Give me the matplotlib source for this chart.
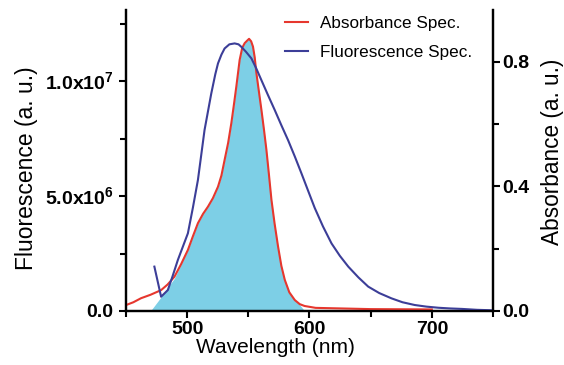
import numpy as np
import matplotlib
matplotlib.use('Agg')
import matplotlib.pyplot as plt
from matplotlib.ticker import MultipleLocator, FuncFormatter

plt.rcParams['font.family'] = ['Liberation Sans', 'DejaVu Sans']
plt.rcParams['mathtext.fontset'] = 'custom'
plt.rcParams['mathtext.rm'] = 'Liberation Sans'
plt.rcParams['mathtext.bf'] = 'Liberation Sans:bold'

# fluorescence spectrum (left axis, a.u.)
fl_wl = [473.2, 478.7, 484.2, 488.0, 492.4, 496.5, 500.6, 504.7, 508.8, 514.2,
         519.7, 523.0, 525.2, 528.0, 530.6, 534.5, 538.8, 542.0, 544.3, 548.0,
         552.5, 556.5, 560.7, 566.0, 571.6, 577.0, 582.5, 588.0, 593.4, 598.8,
         604.3, 611.0, 618.0, 624.8, 631.7, 640.0, 648.0, 657.0, 667.0, 676.0,
         686.0, 695.5, 705.5, 715.0, 724.6, 737.0, 750.0]
fl_val = [0.193e7, 0.062e7, 0.091e7, 0.150e7, 0.222e7, 0.280e7, 0.338e7, 0.450e7,
          0.570e7, 0.787e7, 0.946e7, 1.030e7, 1.077e7, 1.115e7, 1.142e7, 1.160e7,
          1.164e7, 1.160e7, 1.149e7, 1.128e7, 1.099e7, 1.055e7, 1.004e7, 0.940e7,
          0.874e7, 0.808e7, 0.743e7, 0.672e7, 0.599e7, 0.524e7, 0.448e7, 0.368e7,
          0.294e7, 0.240e7, 0.193e7, 0.146e7, 0.106e7, 0.078e7, 0.055e7, 0.038e7,
          0.026e7, 0.019e7, 0.014e7, 0.011e7, 0.009e7, 0.005e7, 0.003e7]

# absorbance spectrum (right axis)
ab_wl = [450.0, 456.0, 462.3, 470.0, 478.7, 484.0, 489.6, 495.0, 500.6, 504.7,
         508.8, 513.0, 517.0, 521.0, 525.2, 528.0, 530.6, 533.5, 536.1, 538.3,
         540.2, 542.9, 545.0, 547.0, 549.0, 550.6, 552.3, 553.8, 555.2, 556.6,
         558.6, 560.7, 562.8, 564.8, 566.8, 568.9, 571.5, 574.3, 577.0, 579.8,
         583.5, 588.0, 592.0, 596.0, 605.0, 650.0, 700.0]
ab_val = [0.019, 0.028, 0.041, 0.052, 0.067, 0.085, 0.110, 0.150, 0.196, 0.240,
          0.282, 0.312, 0.335, 0.362, 0.399, 0.435, 0.485, 0.540, 0.603, 0.665,
          0.721, 0.806, 0.845, 0.860, 0.868, 0.874, 0.866, 0.849, 0.815, 0.764,
          0.706, 0.646, 0.582, 0.517, 0.440, 0.357, 0.280, 0.207, 0.145, 0.100,
          0.060, 0.035, 0.022, 0.016, 0.010, 0.006, 0.005]

# shaded overlap region
fill_wl = [470.0, 478.7, 484.0, 489.6, 495.0, 500.6, 504.7, 508.8, 513.0, 517.0,
           521.0, 525.2, 528.0, 530.6, 533.5, 536.1, 538.3, 540.2, 542.9, 545.0,
           547.0, 549.0, 550.6, 552.3, 553.8, 555.2, 556.6, 558.6, 560.7, 562.8,
           564.8, 566.8, 568.9, 571.5, 574.3, 577.0, 579.8, 583.5, 588.0, 592.0,
           596.0]
fill_val = [0.0, 0.045, 0.075, 0.105, 0.150, 0.196, 0.240, 0.282, 0.312, 0.335,
            0.362, 0.399, 0.435, 0.485, 0.540, 0.603, 0.665, 0.721, 0.806, 0.845,
            0.860, 0.868, 0.874, 0.866, 0.849, 0.815, 0.764, 0.706, 0.646, 0.582,
            0.517, 0.440, 0.357, 0.280, 0.207, 0.145, 0.100, 0.060, 0.035, 0.020,
            0.0]

red = '#e6372e'
blue = '#3c3e98'
cyan = '#7dcfe6'

fig = plt.figure(figsize=(5.64, 3.65), dpi=100)
ax = fig.add_axes([0.2234, 0.148, 0.6507, 0.825])
ax2 = ax.twinx()

ax2.fill_between(fill_wl, fill_val, 0, color=cyan, lw=0, zorder=1)
l1, = ax2.plot(ab_wl, ab_val, color=red, lw=1.5, zorder=3)
l2, = ax.plot(fl_wl, fl_val, color=blue, lw=1.5)
ax.set_zorder(ax2.get_zorder() + 1)
ax.patch.set_visible(False)

ax.set_xlim(450, 750)
ax.set_ylim(0, 1.31e7)
ax2.set_ylim(0, 0.967)

ax.xaxis.set_major_locator(MultipleLocator(100))
ax.xaxis.set_minor_locator(MultipleLocator(50))
ax.yaxis.set_major_locator(MultipleLocator(5e6))
ax.yaxis.set_minor_locator(MultipleLocator(2.5e6))
ax2.yaxis.set_major_locator(MultipleLocator(0.4))
ax2.yaxis.set_minor_locator(MultipleLocator(0.2))


def fl_fmt(v, pos):
    if v <= 0:
        return '0.0'
    e = int(np.floor(np.log10(v)))
    return '%.1fx10$^{\\mathbf{%d}}$' % (v / 10 ** e, e)


ax.yaxis.set_major_formatter(FuncFormatter(fl_fmt))
ax2.yaxis.set_major_formatter(FuncFormatter(lambda v, p: '%.1f' % abs(v)))

for a in (ax, ax2):
    a.spines['top'].set_visible(False)
    for s in ('left', 'right', 'bottom'):
        a.spines[s].set_linewidth(1.6)
    a.tick_params(which='major', direction='out', length=5, width=1.5, labelsize=14, pad=2)
    a.tick_params(which='minor', direction='out', length=4, width=1.5)
    for t in a.get_xticklabels() + a.get_yticklabels():
        t.set_fontweight('bold')
ax.tick_params(axis='y', which='major', pad=4)

ax.set_xlabel('Wavelength (nm)', fontsize=15, va='top')
ax.xaxis.set_label_coords(0.406, -0.09)
ax.set_ylabel('Fluorescence (a. u.)', fontsize=16.5, va='center')
ax.yaxis.set_label_coords(-0.27, 0.475)
ax2.set_ylabel('Absorbance (a. u.)', fontsize=16.3, va='center', rotation=90)
ax2.yaxis.set_label_coords(1.163, 0.528)

ax.legend([l1, l2], ['Absorbance Spec.', 'Fluorescence Spec.'], loc='upper left',
          bbox_to_anchor=(0.505, 0.955), bbox_transform=fig.transFigure,
          frameon=False, fontsize=12.3, borderpad=0, borderaxespad=0,
          handlelength=1.35, handletextpad=0.7, labelspacing=0.8)

fig.savefig('out.png', dpi=100)
